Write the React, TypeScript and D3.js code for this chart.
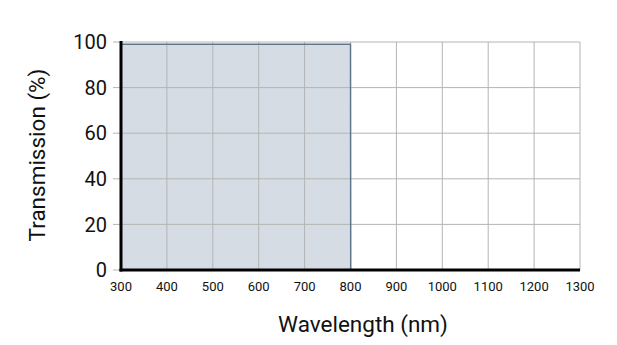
import React from 'react';
import * as d3 from 'd3';

const wavelengths = [300, 310, 400, 500, 600, 700, 790, 800, 800.5, 900, 1000, 1100, 1200, 1300];
const transmission = [99, 99, 99, 99, 99, 99, 99, 99, 0, 0, 0, 0, 0, 0];
const xTicks = [300, 400, 500, 600, 700, 800, 900, 1000, 1100, 1200, 1300];
const yTicks = [0, 20, 40, 60, 80, 100];

export default function App() {
    const W = 617;
    const H = 345;
    const left = 121, right = 580, top = 42, bottom = 270;

    const x = d3.scaleLinear().domain([300, 1300]).range([left, right]);
    const y = d3.scaleLinear().domain([0, 100]).range([bottom, top]);

    const pts = wavelengths.map((w, i) => [w, transmission[i]] as [number, number]);
    const area = d3.area<[number, number]>()
        .x(d => x(d[0]))
        .y0(y(0))
        .y1(d => y(d[1]));
    const line = d3.line<[number, number]>()
        .x(d => x(d[0]))
        .y(d => y(d[1]));

    const font = 'Roboto, "Noto Sans", sans-serif';

    return (
        <svg width={W} height={H} style={{ position: 'absolute', left: 0, top: 0, background: '#fff' }}>
            <path d={area(pts) || ''} fill="#d5dce4" />
            {xTicks.map(t => (
                <line key={'gx' + t} x1={x(t)} x2={x(t)} y1={top} y2={bottom} stroke="#b4b4b4" strokeWidth={1} />
            ))}
            {yTicks.map(t => (
                <line key={'gy' + t} x1={left - 8} x2={right} y1={y(t)} y2={y(t)} stroke="#b4b4b4" strokeWidth={1} />
            ))}
            <path d={line(pts) || ''} fill="none" stroke="#5d7689" strokeWidth={1.5} />
            <line x1={left} x2={left} y1={top - 1} y2={bottom + 1.5} stroke="#000" strokeWidth={3} />
            <line x1={left - 1.5} x2={right} y1={bottom} y2={bottom} stroke="#000" strokeWidth={3} />
            {yTicks.map(t => (
                <text key={'ty' + t} x={107} y={y(t)} dy="0.36em" textAnchor="end" fontFamily={font} fontSize={20} fill="#111">{t}</text>
            ))}
            {xTicks.map(t => (
                <text key={'tx' + t} x={x(t)} y={291} textAnchor="middle" fontFamily={font} fontSize={13} fill="#111">{t}</text>
            ))}
            <text x={363} y={332} textAnchor="middle" fontFamily={font} fontSize={22.5} fill="#111">Wavelength (nm)</text>
            <text transform={`translate(45,155) rotate(-90)`} textAnchor="middle" fontFamily={font} fontSize={22.5} fill="#111">Transmission (%)</text>
        </svg>
    );
}
